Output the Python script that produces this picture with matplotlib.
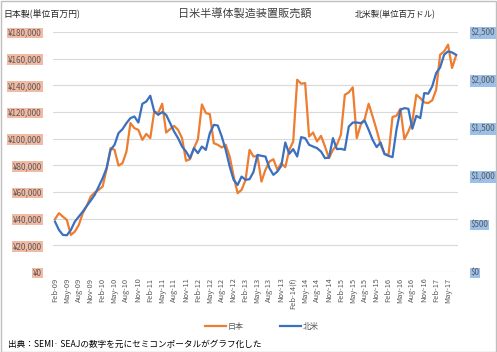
import matplotlib
matplotlib.use("Agg")
import matplotlib.pyplot as plt
from matplotlib.patches import Rectangle
from matplotlib.ticker import FuncFormatter
import numpy as np

plt.rcParams['font.family'] = ['Noto Sans CJK JP', 'DejaVu Sans']

# Monthly data Feb-09 .. Jul-17
japan_myen = [
    39600, 44100, 41500, 39000, 27800, 30300, 35300, 44100, 49600, 56600,
    59600, 61600, 64100, 77100, 92900, 91600, 79800, 81600, 90300, 111700,
    107900, 106600, 99100, 103600, 100400, 120400, 119200, 126200, 104600, 107200,
    109600, 106600, 100400, 83400, 84600, 92900, 99600, 125700, 119200, 118400,
    96600, 95400, 93400, 95400, 86600, 71600, 59100, 61600, 69100, 91600,
    86600, 87100, 67800, 76600, 82800, 84600, 76600, 81600, 78600, 91600,
    97900, 144200, 141200, 141700, 101600, 104600, 97900, 102100, 94100, 85400,
    91600, 95400, 102900, 132900, 134700, 138500, 100400, 110400, 114700, 126200,
    116600, 106600, 95400, 88600, 87900, 116200, 117200, 122400, 99600, 105400,
    112900, 132900, 130400, 127200, 126700, 128700, 136700, 163000, 165400, 170500,
    153000, 162200,
]
na_musd = [
    525, 438, 386, 383, 438, 525, 577, 629, 688, 744,
    803, 890, 977, 1082, 1272, 1325, 1447, 1488, 1551, 1603,
    1620, 1557, 1752, 1776, 1836, 1672, 1637, 1666, 1637, 1551,
    1463, 1394, 1307, 1255, 1186, 1290, 1238, 1307, 1272, 1447,
    1533, 1526, 1411, 1272, 1098, 960, 907, 994, 960, 967,
    1043, 1220, 1210, 1203, 1082, 1012, 1046, 1106, 1349, 1231,
    1280, 1203, 1405, 1394, 1325, 1307, 1290, 1255, 1186, 1192,
    1394, 1280, 1283, 1272, 1515, 1557, 1557, 1551, 1575, 1481,
    1377, 1301, 1349, 1228, 1210, 1196, 1481, 1690, 1707, 1700,
    1492, 1627, 1603, 1864, 1857, 1933, 2073, 2131, 2263, 2298,
    2287, 2263,
]
tick_labels = [
    "Feb-09", "May-09", "Aug-09", "Nov-09", "Feb-10", "May-10", "Aug-10", "Nov-10",
    "Feb-11", "May-11", "Aug-11", "Nov-11", "Feb-12", "May-12", "Aug-12", "Nov-12",
    "Feb-13", "May-13", "Aug-13", "Nov-13", "Feb-14(f)", "May-14", "Aug-14", "Nov-14",
    "Feb-15", "May-15", "Aug-15", "Nov-15", "Feb-16", "May-16", "Aug-16", "Nov-16",
    "Feb-17", "May-17",
]

W, H = 497, 352
fig = plt.figure(figsize=(W / 100, H / 100), dpi=100)
ax = fig.add_axes([53 / W, 1 - 272 / H, (458 - 53) / W, (272 - 32) / H])
ax2 = ax.twinx()

x = np.arange(len(japan_myen))
orange = '#ED7D31'
blue = '#3A70C0'
l1, = ax.plot(x, japan_myen, color=orange, lw=1.6, solid_joinstyle='round', zorder=3)
l2, = ax2.plot(x, na_musd, color=blue, lw=1.6, solid_joinstyle='round', zorder=3)

ax.set_xlim(-0.5, len(x) - 0.5)
ax.set_ylim(0, 180000)
ax2.set_ylim(0, 2500)
ax.set_yticks(np.arange(0, 180001, 20000))
ax2.set_yticks(np.arange(0, 2501, 500))
ax.yaxis.set_major_formatter(FuncFormatter(lambda v, p: f"¥{int(v):,}"))
ax2.yaxis.set_major_formatter(FuncFormatter(lambda v, p: f"${int(v):,}"))
ax.set_xticks(np.arange(0, len(tick_labels) * 3, 3))
ax.set_xticklabels(tick_labels, rotation=90, fontsize=5.4, color='#595959')

ax.grid(axis='y', color='#D9D9D9', lw=0.8)
ax.set_axisbelow(True)
for a in (ax, ax2):
    for s in a.spines.values():
        s.set_visible(False)
    a.tick_params(length=0)
ax.tick_params(axis='y', labelsize=5.8, labelcolor='#595959', pad=8)
ax2.tick_params(axis='y', labelsize=5.8, labelcolor='#595959', pad=9)
ax.tick_params(axis='x', pad=4)
for lbl in ax.get_yticklabels():
    lbl.set_bbox(dict(facecolor='#F2B9A3', edgecolor='none', pad=0.6))
for lbl in ax2.get_yticklabels():
    lbl.set_bbox(dict(facecolor='#9CC0EA', edgecolor='none', pad=0.6))

fig.text(245 / W, 1 - 13 / H, "日米半導体製造装置販売額", ha='center', va='center', fontsize=8, color='#404040')
fig.text(3 / W, 1 - 14 / H, "日本製(単位百万円)", ha='left', va='center', fontsize=6.4, color='#262626')
fig.text(355 / W, 1 - 15 / H, "北米製(単位百万ドル)", ha='left', va='center', fontsize=6.0, color='#262626')

fig.legend([l1, l2], ["日本", "北米"], loc='center', bbox_to_anchor=(262 / W, 1 - 326 / H),
           ncol=2, frameon=False, fontsize=5.8, handlelength=2.6, handletextpad=0.2,
           columnspacing=4.5, labelcolor='#595959')

fig.text(8 / W, 1 - 344 / H, "出典：SEMI· SEAJの数字を元にセミコンポータルがグラフ化した",
         ha='left', va='center', fontsize=6.2, color='#000000')

fig.patches.append(Rectangle((0.5 / W, 0.5 / H), 1 - 1.5 / W, 1 - 1.5 / H, transform=fig.transFigure,
                             fill=False, edgecolor='#BFBFBF', lw=1))

fig.savefig("out.png", dpi=100)
